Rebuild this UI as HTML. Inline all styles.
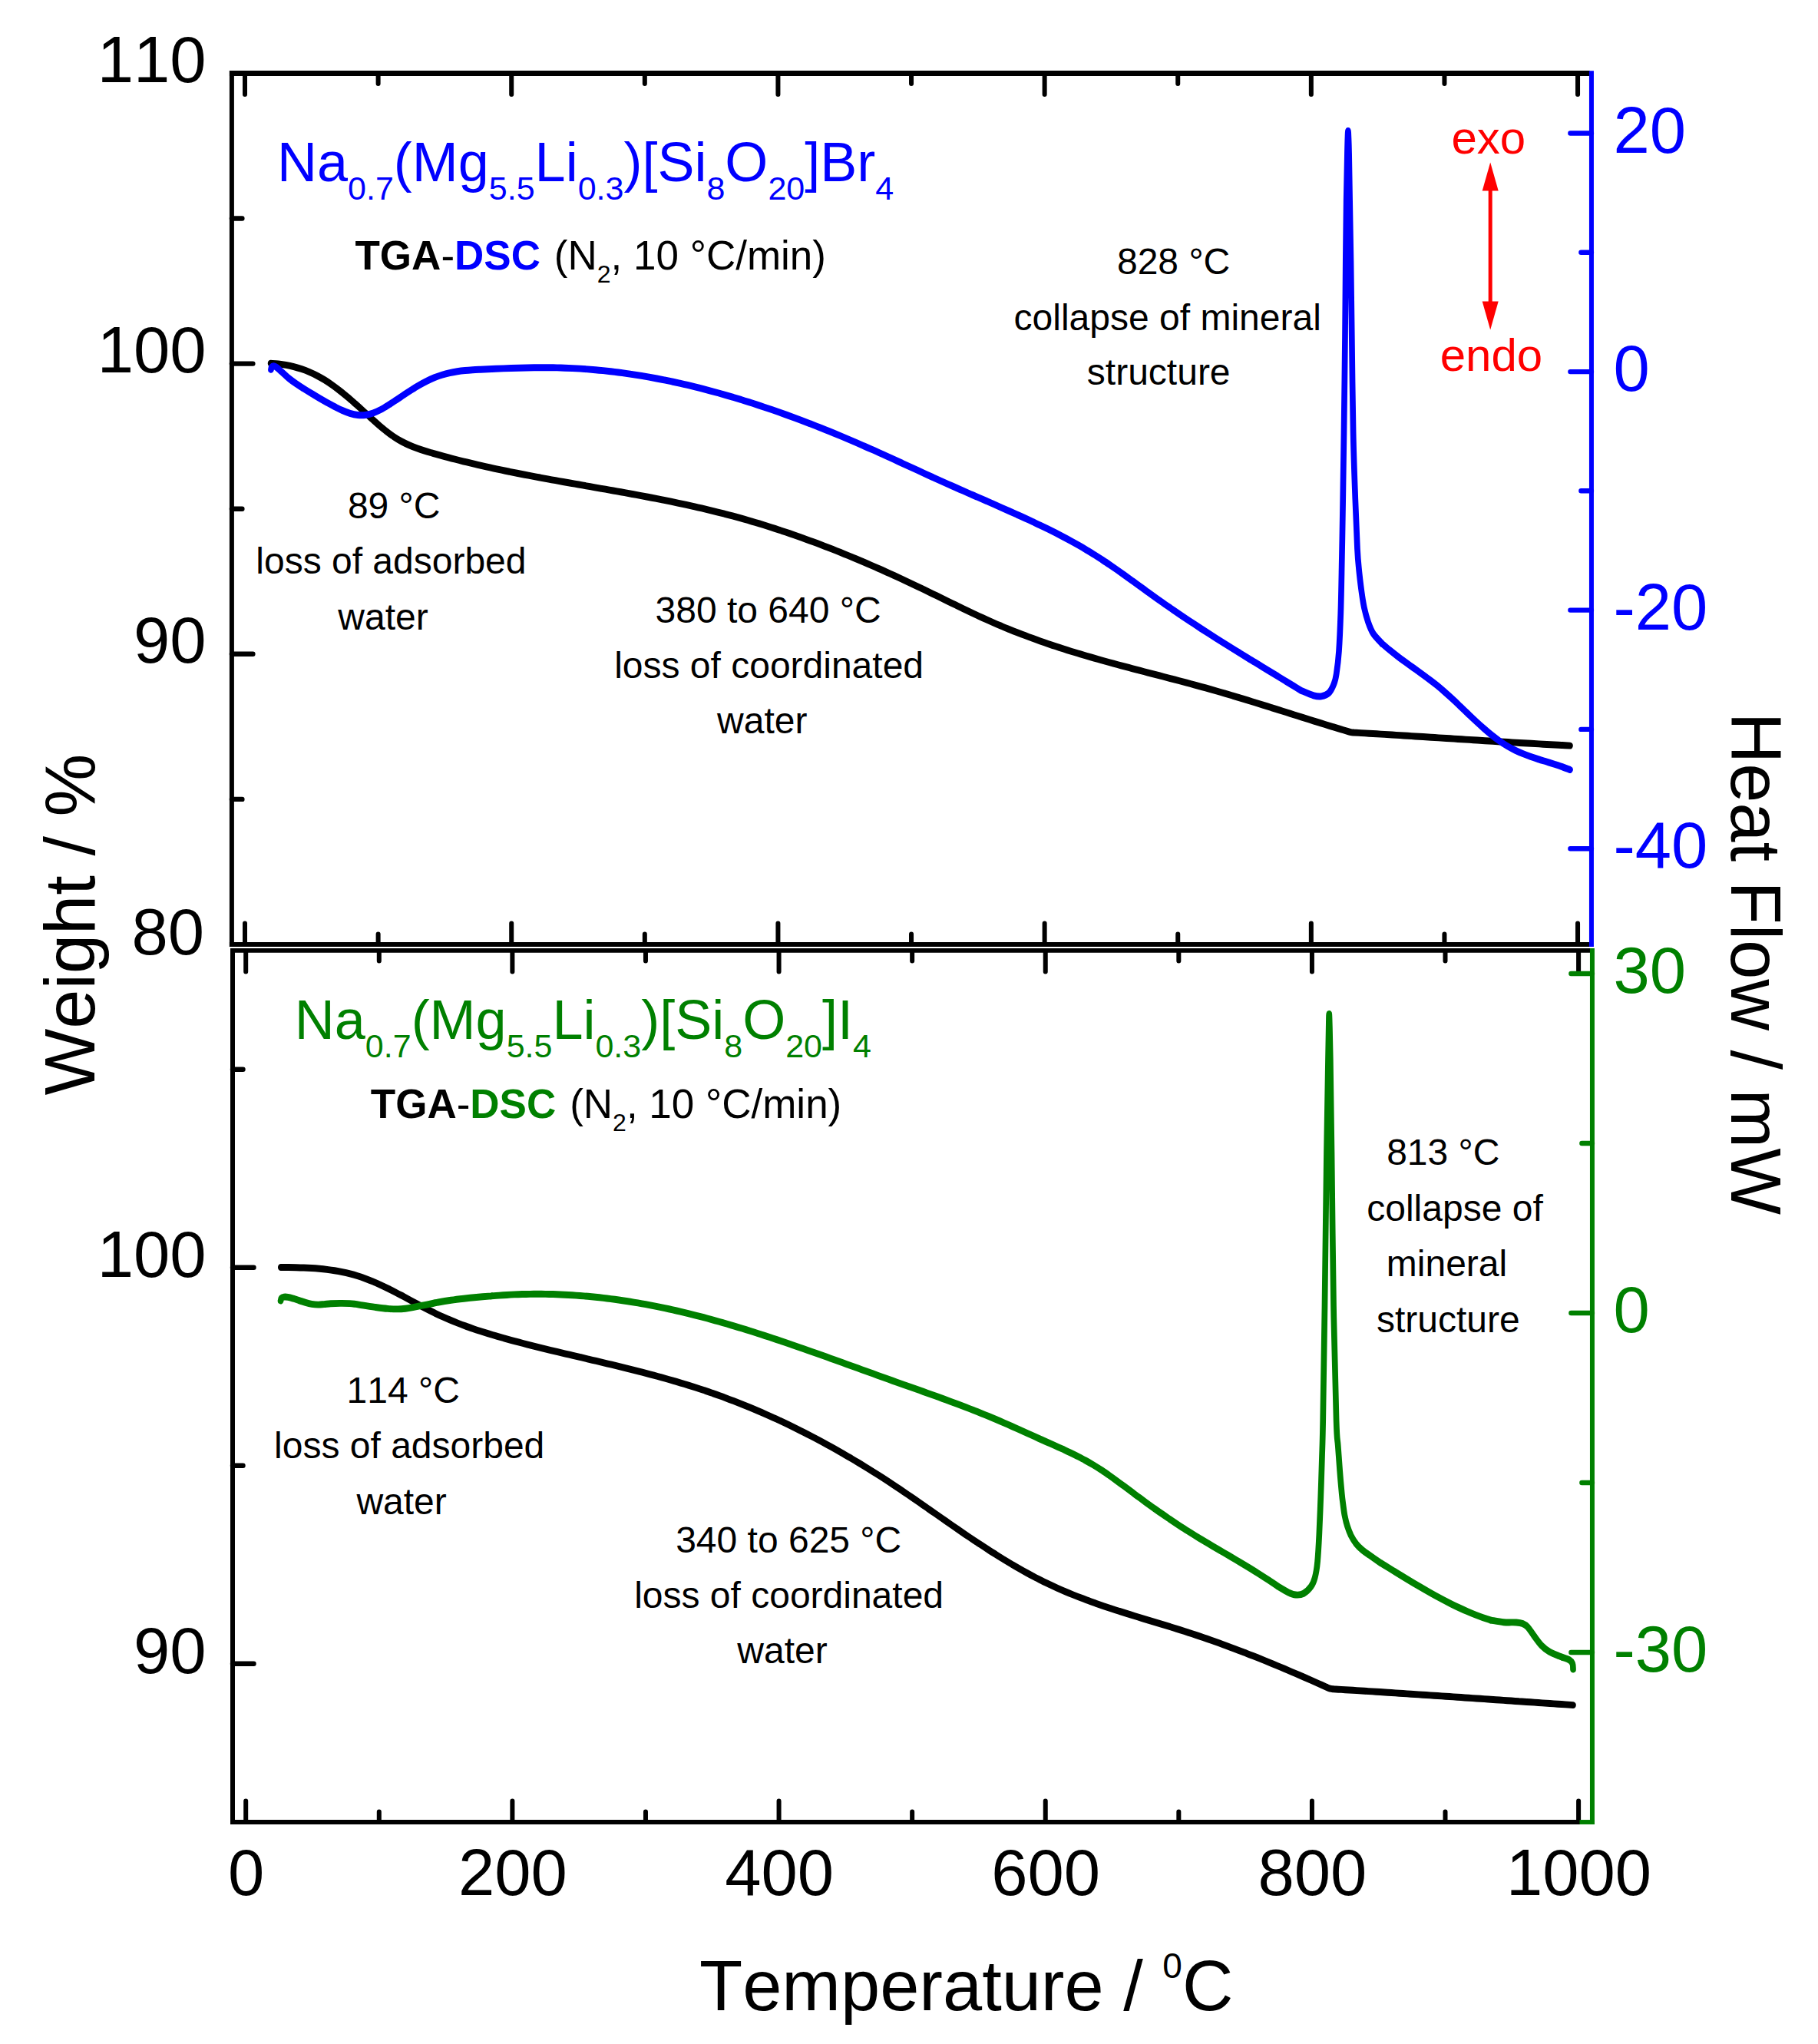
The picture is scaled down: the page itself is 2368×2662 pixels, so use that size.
<!DOCTYPE html>
<html lang="en"><head><meta charset="utf-8"><title>TGA-DSC</title>
<style>
html,body{margin:0;padding:0;background:#fff;}
body{width:2368px;height:2662px;overflow:hidden;}
svg{display:block;}
text{font-family:"Liberation Sans",Arial,Helvetica,sans-serif;font-kerning:none;font-variant-ligatures:none;}
.ax{fill:none;stroke-linecap:butt;}
.tk{fill:none;stroke-width:6;stroke-linecap:round;}
.th{stroke-width:6.4;}
.cv{fill:none;stroke-width:7.7;stroke-linecap:round;stroke-linejoin:round;}
.cv.k{stroke-width:7.7;}
.k{stroke:#000;}.b{stroke:#00f;}.g{stroke:#008000;}
.tl{font-size:85px;}
.an{font-size:48px;text-anchor:middle;}
</style></head><body>
<svg xmlns="http://www.w3.org/2000/svg" width="2368" height="2662" viewBox="0 0 2368 2662">
<rect width="2368" height="2662" fill="#fff"/>
<g transform="scale(1 1.16)">
<path class="cv k" d="M352.6 407.93C354.3 408.05 359.3 408.30 362.6 408.62C366.0 408.94 369.3 409.35 372.6 409.86C376.0 410.38 379.3 410.98 382.7 411.71C386.0 412.44 389.4 413.28 392.7 414.24C396.0 415.21 399.4 416.29 402.7 417.52C406.1 418.75 409.4 420.11 412.7 421.61C416.1 423.12 419.4 424.78 422.8 426.57C426.1 428.36 429.5 430.30 432.8 432.34C436.1 434.37 439.5 436.55 442.8 438.80C446.2 441.05 449.5 443.42 452.8 445.84C456.2 448.27 459.5 450.79 462.9 453.35C466.2 455.91 469.6 458.57 472.9 461.19C476.2 463.82 479.6 466.51 482.9 469.12C486.3 471.72 489.6 474.34 492.9 476.82C496.3 479.30 499.6 481.74 503.0 483.99C506.3 486.24 509.6 488.39 513.0 490.32C516.3 492.25 519.7 493.98 523.0 495.56C526.4 497.14 529.7 498.52 533.0 499.80C536.4 501.09 539.7 502.20 543.1 503.26C546.4 504.32 549.7 505.25 553.1 506.16C556.4 507.08 559.8 507.90 563.1 508.73C566.5 509.56 569.8 510.36 573.1 511.16C576.5 511.95 579.8 512.73 583.2 513.49C586.5 514.26 589.8 515.01 593.2 515.74C596.5 516.48 599.9 517.20 603.2 517.92C606.5 518.63 609.9 519.32 613.2 520.01C616.6 520.70 619.9 521.37 623.3 522.04C626.6 522.70 629.9 523.35 633.3 523.99C636.6 524.64 640.0 525.27 643.3 525.89C646.6 526.51 650.0 527.13 653.3 527.73C656.7 528.34 660.0 528.93 663.4 529.52C666.7 530.11 670.0 530.68 673.4 531.26C676.7 531.83 680.1 532.39 683.4 532.95C686.7 533.51 690.1 534.06 693.4 534.61C696.8 535.16 700.1 535.70 703.5 536.23C706.8 536.77 710.1 537.30 713.5 537.83C716.8 538.36 720.2 538.88 723.5 539.40C726.8 539.92 730.2 540.43 733.5 540.95C736.9 541.46 740.2 541.97 743.5 542.48C746.9 542.99 750.2 543.50 753.6 544.00C756.9 544.51 760.3 545.01 763.6 545.52C766.9 546.02 770.3 546.53 773.6 547.03C777.0 547.54 780.3 548.04 783.6 548.55C787.0 549.06 790.3 549.56 793.7 550.08C797.0 550.59 800.4 551.10 803.7 551.61C807.0 552.13 810.4 552.64 813.7 553.17C817.1 553.69 820.4 554.21 823.7 554.74C827.1 555.27 830.4 555.80 833.8 556.34C837.1 556.88 840.4 557.43 843.8 557.98C847.1 558.52 850.5 559.08 853.8 559.64C857.2 560.20 860.5 560.77 863.8 561.35C867.2 561.93 870.5 562.51 873.9 563.10C877.2 563.69 880.5 564.29 883.9 564.90C887.2 565.51 890.6 566.13 893.9 566.76C897.3 567.38 900.6 568.02 903.9 568.67C907.3 569.32 910.6 569.98 914.0 570.64C917.3 571.31 920.6 572.00 924.0 572.69C927.3 573.38 930.7 574.09 934.0 574.80C937.4 575.52 940.7 576.25 944.0 577.00C947.4 577.74 950.7 578.50 954.1 579.27C957.4 580.04 960.7 580.83 964.1 581.63C967.4 582.43 970.8 583.25 974.1 584.08C977.4 584.91 980.8 585.76 984.1 586.62C987.5 587.48 990.8 588.36 994.2 589.25C997.5 590.14 1000.8 591.05 1004.2 591.97C1007.5 592.89 1010.9 593.82 1014.2 594.77C1017.5 595.72 1020.9 596.68 1024.2 597.66C1027.6 598.63 1030.9 599.62 1034.3 600.63C1037.6 601.63 1040.9 602.65 1044.3 603.68C1047.6 604.71 1051.0 605.75 1054.3 606.81C1057.6 607.87 1061.0 608.94 1064.3 610.02C1067.7 611.10 1071.0 612.20 1074.3 613.31C1077.7 614.42 1081.0 615.54 1084.4 616.67C1087.7 617.81 1091.1 618.95 1094.4 620.11C1097.7 621.27 1101.1 622.44 1104.4 623.62C1107.8 624.81 1111.1 626.00 1114.4 627.21C1117.8 628.41 1121.1 629.63 1124.5 630.86C1127.8 632.09 1131.2 633.33 1134.5 634.58C1137.8 635.83 1141.2 637.09 1144.5 638.37C1147.9 639.64 1151.2 640.93 1154.5 642.22C1157.9 643.52 1161.2 644.82 1164.6 646.14C1167.9 647.46 1171.3 648.78 1174.6 650.12C1177.9 651.46 1181.3 652.80 1184.6 654.16C1188.0 655.52 1191.3 656.89 1194.6 658.26C1198.0 659.64 1201.3 661.03 1204.7 662.42C1208.0 663.81 1211.3 665.22 1214.7 666.62C1218.0 668.03 1221.4 669.44 1224.7 670.85C1228.1 672.26 1231.4 673.67 1234.7 675.07C1238.1 676.48 1241.4 677.89 1244.8 679.29C1248.1 680.68 1251.4 682.08 1254.8 683.46C1258.1 684.84 1261.5 686.22 1264.8 687.58C1268.2 688.94 1271.5 690.29 1274.8 691.63C1278.2 692.96 1281.5 694.28 1284.9 695.58C1288.2 696.87 1291.5 698.15 1294.9 699.41C1298.2 700.67 1301.6 701.90 1304.9 703.11C1308.2 704.33 1311.6 705.52 1314.9 706.69C1318.3 707.86 1321.6 709.00 1325.0 710.13C1328.3 711.26 1331.6 712.37 1335.0 713.46C1338.3 714.55 1341.7 715.62 1345.0 716.67C1348.3 717.72 1351.7 718.75 1355.0 719.77C1358.4 720.79 1361.7 721.78 1365.1 722.77C1368.4 723.75 1371.7 724.72 1375.1 725.67C1378.4 726.62 1381.8 727.55 1385.1 728.48C1388.4 729.40 1391.8 730.30 1395.1 731.20C1398.5 732.09 1401.8 732.97 1405.2 733.84C1408.5 734.71 1411.8 735.56 1415.2 736.41C1418.5 737.25 1421.9 738.09 1425.2 738.91C1428.5 739.73 1431.9 740.55 1435.2 741.35C1438.6 742.16 1441.9 742.96 1445.2 743.75C1448.6 744.54 1451.9 745.32 1455.3 746.10C1458.6 746.87 1462.0 747.64 1465.3 748.41C1468.6 749.18 1472.0 749.94 1475.3 750.70C1478.7 751.45 1482.0 752.21 1485.3 752.96C1488.7 753.71 1492.0 754.46 1495.4 755.21C1498.7 755.96 1502.1 756.70 1505.4 757.45C1508.7 758.20 1512.1 758.95 1515.4 759.70C1518.8 760.44 1522.1 761.19 1525.4 761.95C1528.8 762.70 1532.1 763.46 1535.5 764.22C1538.8 764.98 1542.1 765.74 1545.5 766.51C1548.8 767.28 1552.2 768.05 1555.5 768.83C1558.9 769.61 1562.2 770.40 1565.5 771.19C1568.9 771.99 1572.2 772.79 1575.6 773.60C1578.9 774.41 1582.2 775.23 1585.6 776.06C1588.9 776.88 1592.3 777.72 1595.6 778.57C1599.0 779.41 1602.3 780.26 1605.6 781.12C1609.0 781.98 1612.3 782.85 1615.7 783.72C1619.0 784.59 1622.3 785.47 1625.7 786.35C1629.0 787.23 1632.4 788.12 1635.7 789.01C1639.1 789.90 1642.4 790.80 1645.7 791.70C1649.1 792.60 1652.4 793.50 1655.8 794.40C1659.1 795.31 1662.4 796.21 1665.8 797.12C1669.1 798.02 1672.5 798.93 1675.8 799.84C1679.1 800.75 1682.5 801.66 1685.8 802.57C1689.2 803.47 1692.5 804.38 1695.9 805.29C1699.2 806.19 1702.5 807.10 1705.9 808.00C1709.2 808.90 1712.6 809.80 1715.9 810.69C1719.2 811.59 1722.6 812.48 1725.9 813.36C1729.3 814.25 1732.6 815.13 1736.0 816.01C1739.3 816.89 1742.6 817.76 1746.0 818.63C1749.3 819.49 1754.3 820.77 1756.0 821.20C1757.7 821.63 1755.4 821.06 1756.0 821.21C1756.6 821.35 1758.3 821.87 1759.5 822.07C1760.7 822.27 1762.4 822.36 1763.0 822.41C1763.6 822.47 1761.3 822.33 1763.0 822.41C1764.7 822.50 1769.7 822.75 1773.1 822.92C1776.4 823.09 1779.8 823.26 1783.1 823.44C1786.5 823.61 1789.9 823.79 1793.2 823.96C1796.6 824.14 1799.9 824.31 1803.3 824.49C1806.6 824.67 1810.0 824.85 1813.4 825.03C1816.7 825.21 1820.1 825.39 1823.4 825.57C1826.8 825.75 1830.1 825.93 1833.5 826.11C1836.9 826.29 1840.2 826.48 1843.6 826.66C1846.9 826.84 1850.3 827.03 1853.6 827.21C1857.0 827.39 1860.4 827.58 1863.7 827.76C1867.1 827.95 1870.4 828.13 1873.8 828.31C1877.1 828.50 1880.5 828.68 1883.9 828.87C1887.2 829.05 1890.6 829.24 1893.9 829.42C1897.3 829.61 1900.6 829.79 1904.0 829.97C1907.4 830.16 1910.7 830.34 1914.1 830.52C1917.4 830.71 1920.8 830.89 1924.1 831.07C1927.5 831.25 1930.9 831.44 1934.2 831.62C1937.6 831.80 1940.9 831.98 1944.3 832.16C1947.6 832.34 1951.0 832.51 1954.4 832.69C1957.7 832.87 1961.1 833.05 1964.4 833.22C1967.8 833.40 1971.1 833.57 1974.5 833.74C1977.9 833.92 1981.2 834.09 1984.6 834.26C1987.9 834.43 1991.3 834.60 1994.6 834.77C1998.0 834.93 2001.4 835.10 2004.7 835.26C2008.1 835.43 2011.4 835.59 2014.8 835.75C2018.1 835.91 2021.5 836.07 2024.9 836.23C2028.2 836.39 2031.6 836.55 2034.9 836.70C2038.3 836.85 2043.3 837.08 2045.0 837.16"/>
<path class="cv b" d="M353.0 414.91C353.1 414.47 353.0 412.89 353.6 412.24C354.2 411.59 355.5 410.98 356.6 411.03C357.8 411.09 358.9 411.62 360.5 412.59C362.1 413.55 365.1 416.11 366.0 416.81C366.9 417.52 364.3 415.52 366.0 416.82C367.7 418.11 372.7 422.21 376.0 424.57C379.3 426.93 382.6 428.97 386.0 430.97C389.3 432.96 392.6 434.74 396.0 436.55C399.3 438.36 402.6 440.10 406.0 441.84C409.3 443.57 412.6 445.30 415.9 446.98C419.3 448.66 422.6 450.32 425.9 451.92C429.3 453.53 432.6 455.13 435.9 456.61C439.3 458.09 442.6 459.57 445.9 460.82C449.2 462.07 452.6 463.23 455.9 464.09C459.2 464.95 462.6 465.64 465.9 465.95C469.2 466.26 472.5 466.30 475.9 465.94C479.2 465.58 482.5 464.80 485.9 463.80C489.2 462.80 492.5 461.43 495.9 459.94C499.2 458.46 502.5 456.69 505.8 454.90C509.2 453.11 512.5 451.12 515.8 449.20C519.2 447.29 522.5 445.29 525.8 443.39C529.1 441.49 532.5 439.60 535.8 437.81C539.1 436.01 542.5 434.25 545.8 432.61C549.1 430.97 552.5 429.40 555.8 427.96C559.1 426.53 562.4 425.18 565.8 424.00C569.1 422.83 572.4 421.79 575.8 420.89C579.1 419.99 582.4 419.25 585.8 418.61C589.1 417.96 592.4 417.46 595.7 417.01C599.1 416.57 602.4 416.24 605.7 415.95C609.1 415.66 612.4 415.46 615.7 415.27C619.0 415.08 622.4 414.95 625.7 414.81C629.0 414.66 632.4 414.55 635.7 414.42C639.0 414.29 642.4 414.17 645.7 414.04C649.0 413.92 652.3 413.80 655.7 413.69C659.0 413.58 662.3 413.47 665.7 413.37C669.0 413.27 672.3 413.18 675.7 413.10C679.0 413.01 682.3 412.94 685.6 412.88C689.0 412.82 692.3 412.77 695.6 412.73C699.0 412.69 702.3 412.67 705.6 412.66C708.9 412.66 712.3 412.66 715.6 412.69C718.9 412.72 722.3 412.76 725.6 412.82C728.9 412.89 732.3 412.97 735.6 413.07C738.9 413.18 742.2 413.30 745.6 413.44C748.9 413.58 752.2 413.75 755.6 413.93C758.9 414.11 762.2 414.31 765.5 414.53C768.9 414.76 772.2 415.00 775.5 415.26C778.9 415.51 782.2 415.79 785.5 416.09C788.9 416.39 792.2 416.70 795.5 417.04C798.8 417.37 802.2 417.72 805.5 418.09C808.8 418.47 812.2 418.85 815.5 419.26C818.8 419.67 822.2 420.09 825.5 420.53C828.8 420.98 832.1 421.44 835.5 421.91C838.8 422.39 842.1 422.89 845.5 423.40C848.8 423.91 852.1 424.44 855.4 424.98C858.8 425.53 862.1 426.09 865.4 426.67C868.8 427.25 872.1 427.85 875.4 428.46C878.8 429.07 882.1 429.70 885.4 430.34C888.7 430.99 892.1 431.65 895.4 432.32C898.7 433.00 902.1 433.69 905.4 434.39C908.7 435.10 912.1 435.82 915.4 436.56C918.7 437.30 922.0 438.05 925.4 438.82C928.7 439.59 932.0 440.37 935.4 441.17C938.7 441.96 942.0 442.78 945.3 443.60C948.7 444.43 952.0 445.27 955.3 446.12C958.7 446.98 962.0 447.85 965.3 448.73C968.7 449.61 972.0 450.51 975.3 451.42C978.6 452.33 982.0 453.25 985.3 454.19C988.6 455.12 992.0 456.07 995.3 457.04C998.6 458.00 1001.9 458.98 1005.3 459.97C1008.6 460.95 1011.9 461.96 1015.3 462.97C1018.6 463.99 1021.9 465.01 1025.3 466.05C1028.6 467.09 1031.9 468.14 1035.2 469.21C1038.6 470.27 1041.9 471.34 1045.2 472.43C1048.6 473.52 1051.9 474.62 1055.2 475.73C1058.6 476.84 1061.9 477.96 1065.2 479.09C1068.5 480.22 1071.9 481.37 1075.2 482.52C1078.5 483.68 1081.9 484.84 1085.2 486.02C1088.5 487.20 1091.8 488.38 1095.2 489.58C1098.5 490.78 1101.8 491.99 1105.2 493.21C1108.5 494.42 1111.8 495.65 1115.2 496.89C1118.5 498.13 1121.8 499.38 1125.1 500.63C1128.5 501.89 1131.8 503.16 1135.1 504.44C1138.5 505.71 1141.8 507.00 1145.1 508.29C1148.4 509.58 1151.8 510.88 1155.1 512.19C1158.4 513.49 1161.8 514.80 1165.1 516.11C1168.4 517.43 1171.8 518.74 1175.1 520.06C1178.4 521.38 1181.7 522.70 1185.1 524.02C1188.4 525.34 1191.7 526.66 1195.1 527.98C1198.4 529.30 1201.7 530.62 1205.1 531.93C1208.4 533.25 1211.7 534.56 1215.0 535.87C1218.4 537.17 1221.7 538.47 1225.0 539.77C1228.4 541.06 1231.7 542.35 1235.0 543.63C1238.3 544.91 1241.7 546.18 1245.0 547.45C1248.3 548.72 1251.7 549.98 1255.0 551.24C1258.3 552.50 1261.7 553.76 1265.0 555.01C1268.3 556.27 1271.6 557.52 1275.0 558.77C1278.3 560.02 1281.6 561.28 1285.0 562.53C1288.3 563.79 1291.6 565.04 1295.0 566.30C1298.3 567.56 1301.6 568.83 1304.9 570.09C1308.3 571.36 1311.6 572.64 1314.9 573.92C1318.3 575.20 1321.6 576.48 1324.9 577.78C1328.2 579.08 1331.6 580.38 1334.9 581.69C1338.2 583.01 1341.6 584.33 1344.9 585.68C1348.2 587.02 1351.6 588.37 1354.9 589.75C1358.2 591.12 1361.5 592.51 1364.9 593.92C1368.2 595.34 1371.5 596.77 1374.9 598.23C1378.2 599.70 1381.5 601.18 1384.8 602.69C1388.2 604.21 1391.5 605.75 1394.8 607.33C1398.2 608.90 1401.5 610.51 1404.8 612.15C1408.2 613.79 1411.5 615.47 1414.8 617.19C1418.1 618.91 1421.5 620.66 1424.8 622.46C1428.1 624.26 1431.5 626.10 1434.8 627.98C1438.1 629.86 1441.5 631.79 1444.8 633.74C1448.1 635.69 1451.4 637.68 1454.8 639.68C1458.1 641.69 1461.4 643.72 1464.8 645.76C1468.1 647.81 1471.4 649.88 1474.7 651.95C1478.1 654.02 1481.4 656.10 1484.7 658.18C1488.1 660.26 1491.4 662.35 1494.7 664.42C1498.1 666.50 1501.4 668.57 1504.7 670.63C1508.0 672.68 1511.4 674.73 1514.7 676.75C1518.0 678.78 1521.4 680.78 1524.7 682.77C1528.0 684.75 1531.4 686.72 1534.7 688.67C1538.0 690.62 1541.3 692.56 1544.7 694.48C1548.0 696.40 1551.3 698.30 1554.7 700.19C1558.0 702.08 1561.3 703.96 1564.6 705.82C1568.0 707.68 1571.3 709.53 1574.6 711.37C1578.0 713.21 1581.3 715.04 1584.6 716.86C1588.0 718.68 1591.3 720.49 1594.6 722.29C1597.9 724.09 1601.3 725.88 1604.6 727.67C1607.9 729.46 1611.3 731.23 1614.6 733.01C1617.9 734.78 1621.2 736.54 1624.6 738.31C1627.9 740.07 1631.2 741.83 1634.6 743.58C1637.9 745.34 1641.2 747.09 1644.6 748.84C1647.9 750.60 1651.2 752.34 1654.5 754.09C1657.9 755.84 1661.2 757.59 1664.5 759.34C1667.9 761.09 1671.2 762.85 1674.5 764.60C1677.9 766.36 1681.2 768.11 1684.5 769.87C1687.8 771.63 1692.8 774.29 1694.5 775.17C1696.2 776.05 1691.8 774.22 1694.5 775.17C1697.2 776.12 1706.6 779.77 1711.0 780.86C1715.4 781.95 1717.7 782.20 1721.0 781.72C1724.3 781.25 1728.1 780.30 1730.8 778.02C1733.5 775.73 1735.8 771.58 1737.4 768.02C1739.1 764.45 1739.6 762.80 1740.7 756.64C1741.8 750.47 1743.1 742.41 1744.0 731.03C1744.9 719.66 1745.6 706.03 1746.3 688.36C1747.0 670.69 1747.4 646.34 1747.9 625.00C1748.4 603.66 1748.8 583.62 1749.2 560.34C1749.6 537.07 1750.0 515.80 1750.5 485.34C1751.0 454.89 1751.6 409.63 1752.0 377.59C1752.4 345.55 1752.5 318.68 1752.8 293.10C1753.1 267.53 1753.3 244.25 1753.7 224.14C1754.1 204.02 1754.6 184.20 1754.9 172.41C1755.2 160.63 1755.3 157.69 1755.5 153.45C1755.7 149.21 1755.8 146.98 1755.9 146.98C1756.1 146.98 1756.2 149.21 1756.4 153.45C1756.6 157.69 1756.8 160.63 1757.1 172.41C1757.4 184.20 1757.7 204.02 1758.1 224.14C1758.5 244.25 1759.0 267.53 1759.5 293.10C1760.0 318.68 1760.3 345.55 1760.8 377.59C1761.3 409.63 1761.8 454.89 1762.6 485.34C1763.3 515.80 1764.4 538.51 1765.3 560.34C1766.2 582.18 1767.2 602.73 1768.0 616.38C1768.8 630.03 1769.5 634.04 1770.4 642.24C1771.4 650.45 1772.6 658.86 1773.7 665.60C1774.8 672.34 1775.6 677.23 1777.0 682.67C1778.4 688.12 1780.1 693.52 1782.0 698.28C1783.9 703.03 1785.6 707.18 1788.6 711.21C1791.6 715.23 1798.1 720.55 1800.0 722.41C1801.9 724.28 1798.3 721.16 1800.0 722.42C1801.7 723.67 1806.8 727.53 1810.2 729.93C1813.6 732.34 1817.0 734.61 1820.4 736.85C1823.8 739.09 1827.2 741.23 1830.6 743.37C1834.0 745.50 1837.4 747.57 1840.8 749.68C1844.2 751.78 1847.6 753.85 1851.0 755.98C1854.4 758.11 1857.8 760.24 1861.2 762.47C1864.7 764.70 1868.1 766.96 1871.5 769.34C1874.9 771.73 1878.3 774.21 1881.7 776.79C1885.1 779.36 1888.5 782.05 1891.9 784.77C1895.3 787.48 1898.7 790.29 1902.1 793.08C1905.5 795.87 1908.9 798.71 1912.3 801.50C1915.7 804.29 1919.1 807.10 1922.5 809.81C1925.9 812.53 1929.3 815.23 1932.7 817.80C1936.1 820.37 1939.5 822.89 1942.9 825.24C1946.3 827.59 1949.7 829.85 1953.1 831.92C1956.5 833.98 1959.9 835.88 1963.3 837.62C1966.7 839.35 1970.1 840.89 1973.5 842.33C1976.9 843.77 1980.3 845.04 1983.8 846.24C1987.2 847.45 1990.6 848.52 1994.0 849.56C1997.4 850.60 2000.8 851.53 2004.2 852.47C2007.6 853.42 2011.0 854.29 2014.4 855.20C2017.8 856.11 2021.2 856.99 2024.6 857.93C2028.0 858.88 2031.4 859.82 2034.8 860.87C2038.2 861.92 2043.3 863.67 2045.0 864.22"/>
<path class="cv k" d="M365.8 1422.86C367.5 1422.86 372.5 1422.86 375.8 1422.89C379.2 1422.91 382.5 1422.94 385.8 1423.00C389.2 1423.06 392.5 1423.14 395.8 1423.26C399.2 1423.37 402.5 1423.51 405.9 1423.69C409.2 1423.87 412.5 1424.09 415.9 1424.35C419.2 1424.61 422.6 1424.92 425.9 1425.28C429.2 1425.64 432.6 1426.04 435.9 1426.52C439.3 1426.99 442.6 1427.52 445.9 1428.12C449.3 1428.71 452.6 1429.37 455.9 1430.11C459.3 1430.85 462.6 1431.66 466.0 1432.56C469.3 1433.45 472.6 1434.43 476.0 1435.49C479.3 1436.54 482.7 1437.69 486.0 1438.90C489.3 1440.10 492.7 1441.39 496.0 1442.72C499.3 1444.04 502.7 1445.44 506.0 1446.86C509.4 1448.29 512.7 1449.77 516.0 1451.26C519.4 1452.76 522.7 1454.30 526.1 1455.84C529.4 1457.38 532.7 1458.94 536.1 1460.50C539.4 1462.05 542.8 1463.62 546.1 1465.15C549.4 1466.69 552.8 1468.23 556.1 1469.71C559.4 1471.20 562.8 1472.67 566.1 1474.08C569.5 1475.49 572.8 1476.86 576.1 1478.17C579.5 1479.48 582.8 1480.74 586.2 1481.95C589.5 1483.16 592.8 1484.32 596.2 1485.45C599.5 1486.57 602.8 1487.65 606.2 1488.70C609.5 1489.75 612.9 1490.76 616.2 1491.74C619.5 1492.72 622.9 1493.67 626.2 1494.59C629.6 1495.52 632.9 1496.41 636.2 1497.30C639.6 1498.18 642.9 1499.04 646.3 1499.88C649.6 1500.73 652.9 1501.55 656.3 1502.37C659.6 1503.18 662.9 1503.98 666.3 1504.77C669.6 1505.55 673.0 1506.32 676.3 1507.08C679.6 1507.84 683.0 1508.59 686.3 1509.33C689.7 1510.07 693.0 1510.80 696.3 1511.52C699.7 1512.24 703.0 1512.95 706.3 1513.65C709.7 1514.36 713.0 1515.06 716.4 1515.75C719.7 1516.44 723.0 1517.13 726.4 1517.82C729.7 1518.50 733.1 1519.18 736.4 1519.86C739.7 1520.54 743.1 1521.22 746.4 1521.89C749.8 1522.57 753.1 1523.24 756.4 1523.92C759.8 1524.59 763.1 1525.26 766.4 1525.94C769.8 1526.62 773.1 1527.29 776.5 1527.97C779.8 1528.65 783.1 1529.33 786.5 1530.01C789.8 1530.70 793.2 1531.38 796.5 1532.08C799.8 1532.77 803.2 1533.47 806.5 1534.17C809.9 1534.87 813.2 1535.58 816.5 1536.29C819.9 1537.01 823.2 1537.73 826.5 1538.45C829.9 1539.18 833.2 1539.92 836.6 1540.67C839.9 1541.41 843.2 1542.16 846.6 1542.93C849.9 1543.69 853.3 1544.47 856.6 1545.25C859.9 1546.04 863.3 1546.83 866.6 1547.64C869.9 1548.45 873.3 1549.27 876.6 1550.11C880.0 1550.94 883.3 1551.79 886.6 1552.65C890.0 1553.52 893.3 1554.39 896.7 1555.29C900.0 1556.18 903.3 1557.09 906.7 1558.01C910.0 1558.94 913.4 1559.88 916.7 1560.84C920.0 1561.80 923.4 1562.77 926.7 1563.77C930.0 1564.77 933.4 1565.78 936.7 1566.82C940.1 1567.85 943.4 1568.91 946.7 1569.98C950.1 1571.05 953.4 1572.15 956.8 1573.26C960.1 1574.38 963.4 1575.51 966.8 1576.66C970.1 1577.81 973.4 1578.99 976.8 1580.18C980.1 1581.37 983.5 1582.58 986.8 1583.81C990.1 1585.04 993.5 1586.29 996.8 1587.56C1000.2 1588.83 1003.5 1590.12 1006.8 1591.43C1010.2 1592.74 1013.5 1594.07 1016.9 1595.41C1020.2 1596.76 1023.5 1598.13 1026.9 1599.51C1030.2 1600.90 1033.5 1602.31 1036.9 1603.73C1040.2 1605.15 1043.6 1606.60 1046.9 1608.06C1050.2 1609.53 1053.6 1611.01 1056.9 1612.51C1060.3 1614.01 1063.6 1615.53 1066.9 1617.07C1070.3 1618.61 1073.6 1620.17 1076.9 1621.75C1080.3 1623.33 1083.6 1624.93 1087.0 1626.54C1090.3 1628.16 1093.6 1629.80 1097.0 1631.45C1100.3 1633.11 1103.7 1634.78 1107.0 1636.48C1110.3 1638.17 1113.7 1639.88 1117.0 1641.61C1120.4 1643.34 1123.7 1645.09 1127.0 1646.86C1130.4 1648.63 1133.7 1650.42 1137.0 1652.23C1140.4 1654.04 1143.7 1655.86 1147.1 1657.71C1150.4 1659.55 1153.7 1661.42 1157.1 1663.30C1160.4 1665.18 1163.8 1667.09 1167.1 1669.01C1170.4 1670.93 1173.8 1672.87 1177.1 1674.82C1180.4 1676.77 1183.8 1678.74 1187.1 1680.72C1190.5 1682.69 1193.8 1684.68 1197.1 1686.68C1200.5 1688.67 1203.8 1690.68 1207.2 1692.69C1210.5 1694.69 1213.8 1696.71 1217.2 1698.72C1220.5 1700.73 1223.9 1702.74 1227.2 1704.75C1230.5 1706.76 1233.9 1708.77 1237.2 1710.77C1240.5 1712.77 1243.9 1714.76 1247.2 1716.74C1250.6 1718.73 1253.9 1720.70 1257.2 1722.66C1260.6 1724.62 1263.9 1726.57 1267.3 1728.50C1270.6 1730.43 1273.9 1732.34 1277.3 1734.24C1280.6 1736.13 1283.9 1738.01 1287.3 1739.86C1290.6 1741.72 1294.0 1743.55 1297.3 1745.36C1300.6 1747.17 1304.0 1748.96 1307.3 1750.72C1310.7 1752.48 1314.0 1754.22 1317.3 1755.92C1320.7 1757.63 1324.0 1759.31 1327.4 1760.95C1330.7 1762.60 1334.0 1764.22 1337.4 1765.80C1340.7 1767.38 1344.0 1768.93 1347.4 1770.45C1350.7 1771.96 1354.1 1773.44 1357.4 1774.88C1360.7 1776.32 1364.1 1777.72 1367.4 1779.08C1370.8 1780.45 1374.1 1781.77 1377.4 1783.06C1380.8 1784.36 1384.1 1785.61 1387.5 1786.84C1390.8 1788.06 1394.1 1789.25 1397.5 1790.42C1400.8 1791.58 1404.1 1792.71 1407.5 1793.82C1410.8 1794.93 1414.2 1796.01 1417.5 1797.07C1420.8 1798.13 1424.2 1799.16 1427.5 1800.18C1430.9 1801.20 1434.2 1802.19 1437.5 1803.17C1440.9 1804.15 1444.2 1805.10 1447.5 1806.05C1450.9 1806.99 1454.2 1807.92 1457.6 1808.84C1460.9 1809.76 1464.2 1810.66 1467.6 1811.56C1470.9 1812.46 1474.3 1813.35 1477.6 1814.23C1480.9 1815.11 1484.3 1815.99 1487.6 1816.86C1491.0 1817.73 1494.3 1818.60 1497.6 1819.47C1501.0 1820.34 1504.3 1821.21 1507.6 1822.08C1511.0 1822.95 1514.3 1823.82 1517.7 1824.70C1521.0 1825.58 1524.3 1826.47 1527.7 1827.36C1531.0 1828.25 1534.4 1829.15 1537.7 1830.06C1541.0 1830.97 1544.4 1831.90 1547.7 1832.83C1551.0 1833.77 1554.4 1834.72 1557.7 1835.68C1561.1 1836.64 1564.4 1837.62 1567.7 1838.61C1571.1 1839.59 1574.4 1840.59 1577.8 1841.61C1581.1 1842.62 1584.4 1843.65 1587.8 1844.68C1591.1 1845.72 1594.5 1846.77 1597.8 1847.83C1601.1 1848.89 1604.5 1849.96 1607.8 1851.04C1611.1 1852.13 1614.5 1853.22 1617.8 1854.33C1621.2 1855.43 1624.5 1856.55 1627.8 1857.67C1631.2 1858.80 1634.5 1859.94 1637.9 1861.08C1641.2 1862.23 1644.5 1863.39 1647.9 1864.55C1651.2 1865.72 1654.5 1866.89 1657.9 1868.08C1661.2 1869.27 1664.6 1870.46 1667.9 1871.66C1671.2 1872.87 1674.6 1874.08 1677.9 1875.30C1681.3 1876.52 1684.6 1877.75 1687.9 1878.99C1691.3 1880.23 1694.6 1881.48 1698.0 1882.73C1701.3 1883.99 1704.6 1885.25 1708.0 1886.52C1711.3 1887.79 1714.6 1889.07 1718.0 1890.35C1721.3 1891.63 1726.3 1893.58 1728.0 1894.22C1729.7 1894.87 1727.2 1893.95 1728.0 1894.22C1728.8 1894.50 1731.0 1895.50 1732.5 1895.86C1734.0 1896.22 1736.2 1896.29 1737.0 1896.38C1737.8 1896.47 1735.3 1896.29 1737.0 1896.38C1738.7 1896.47 1743.7 1896.73 1747.1 1896.90C1750.4 1897.08 1753.8 1897.25 1757.1 1897.43C1760.5 1897.61 1763.8 1897.79 1767.2 1897.97C1770.5 1898.15 1773.9 1898.33 1777.3 1898.51C1780.6 1898.69 1784.0 1898.88 1787.3 1899.06C1790.7 1899.24 1794.0 1899.43 1797.4 1899.61C1800.7 1899.80 1804.1 1899.98 1807.5 1900.17C1810.8 1900.36 1814.2 1900.55 1817.5 1900.73C1820.9 1900.92 1824.2 1901.11 1827.6 1901.30C1830.9 1901.49 1834.3 1901.68 1837.6 1901.87C1841.0 1902.06 1844.4 1902.26 1847.7 1902.45C1851.1 1902.64 1854.4 1902.83 1857.8 1903.03C1861.1 1903.22 1864.5 1903.42 1867.8 1903.61C1871.2 1903.81 1874.5 1904.00 1877.9 1904.20C1881.3 1904.39 1884.6 1904.59 1888.0 1904.78C1891.3 1904.98 1894.7 1905.18 1898.0 1905.37C1901.4 1905.57 1904.7 1905.77 1908.1 1905.97C1911.5 1906.17 1914.8 1906.36 1918.2 1906.56C1921.5 1906.76 1924.9 1906.96 1928.2 1907.16C1931.6 1907.36 1934.9 1907.56 1938.3 1907.75C1941.6 1907.95 1945.0 1908.15 1948.4 1908.35C1951.7 1908.55 1955.1 1908.75 1958.4 1908.95C1961.8 1909.15 1965.1 1909.35 1968.5 1909.55C1971.8 1909.75 1975.2 1909.95 1978.5 1910.15C1981.9 1910.35 1985.3 1910.55 1988.6 1910.75C1992.0 1910.95 1995.3 1911.14 1998.7 1911.34C2002.0 1911.54 2005.4 1911.74 2008.7 1911.94C2012.1 1912.14 2015.5 1912.34 2018.8 1912.54C2022.2 1912.73 2025.5 1912.93 2028.9 1913.13C2032.2 1913.33 2035.6 1913.52 2038.9 1913.72C2042.3 1913.92 2047.3 1914.21 2049.0 1914.31"/>
<path class="cv g" d="M365.6 1460.34C365.8 1459.89 365.8 1458.28 366.5 1457.59C367.2 1456.90 368.6 1456.41 370.0 1456.21C371.4 1456.01 373.0 1456.09 375.0 1456.38C377.0 1456.67 379.6 1457.33 382.0 1457.93C384.4 1458.53 386.8 1459.25 389.5 1460.00C392.2 1460.75 395.2 1461.74 398.0 1462.41C400.8 1463.09 403.3 1463.66 406.0 1464.05C408.7 1464.44 411.6 1464.70 414.3 1464.74C417.0 1464.78 419.2 1464.51 422.0 1464.31C424.8 1464.11 427.3 1463.71 430.8 1463.53C434.3 1463.36 438.9 1463.29 443.0 1463.28C447.1 1463.26 452.2 1463.30 455.5 1463.45C458.8 1463.59 460.2 1463.81 463.0 1464.14C465.8 1464.47 467.8 1464.86 472.0 1465.43C476.2 1466.01 483.0 1466.94 488.5 1467.59C494.0 1468.23 500.1 1468.95 505.0 1469.31C509.9 1469.67 514.4 1469.77 518.2 1469.74C522.0 1469.71 524.7 1469.47 528.0 1469.14C531.3 1468.81 533.6 1468.46 538.0 1467.76C542.4 1467.05 549.0 1465.86 554.5 1464.91C560.0 1463.97 565.5 1462.93 571.0 1462.07C576.5 1461.21 582.0 1460.43 587.5 1459.74C593.0 1459.05 598.5 1458.48 604.0 1457.93C609.5 1457.39 614.5 1456.94 620.5 1456.47C626.5 1455.99 636.8 1455.31 640.0 1455.09C643.2 1454.86 638.3 1455.21 640.0 1455.09C641.7 1454.98 646.7 1454.60 650.0 1454.39C653.4 1454.17 656.7 1453.98 660.1 1453.81C663.4 1453.64 666.8 1453.50 670.1 1453.37C673.5 1453.25 676.8 1453.14 680.2 1453.06C683.5 1452.98 686.9 1452.92 690.2 1452.88C693.6 1452.84 696.9 1452.82 700.3 1452.82C703.6 1452.83 707.0 1452.85 710.3 1452.89C713.7 1452.94 717.0 1453.00 720.4 1453.09C723.7 1453.17 727.1 1453.28 730.4 1453.40C733.8 1453.53 737.1 1453.67 740.5 1453.84C743.8 1454.00 747.2 1454.19 750.5 1454.39C753.9 1454.59 757.2 1454.82 760.6 1455.06C763.9 1455.30 767.3 1455.56 770.6 1455.85C774.0 1456.13 777.3 1456.43 780.7 1456.74C784.0 1457.06 787.4 1457.40 790.7 1457.75C794.1 1458.11 797.4 1458.48 800.8 1458.87C804.1 1459.26 807.5 1459.67 810.8 1460.10C814.1 1460.52 817.5 1460.97 820.8 1461.43C824.2 1461.89 827.5 1462.37 830.9 1462.87C834.2 1463.36 837.6 1463.87 840.9 1464.40C844.3 1464.93 847.6 1465.48 851.0 1466.04C854.3 1466.61 857.7 1467.19 861.0 1467.78C864.4 1468.38 867.7 1468.99 871.1 1469.62C874.4 1470.25 877.8 1470.89 881.1 1471.55C884.5 1472.21 887.8 1472.89 891.2 1473.58C894.5 1474.27 897.9 1474.97 901.2 1475.69C904.6 1476.41 907.9 1477.15 911.3 1477.90C914.6 1478.65 918.0 1479.42 921.3 1480.19C924.7 1480.97 928.0 1481.76 931.4 1482.57C934.7 1483.37 938.1 1484.19 941.4 1485.02C944.8 1485.85 948.1 1486.69 951.5 1487.55C954.8 1488.40 958.2 1489.26 961.5 1490.14C964.9 1491.01 968.2 1491.90 971.6 1492.80C974.9 1493.70 978.3 1494.60 981.6 1495.52C984.9 1496.43 988.3 1497.36 991.6 1498.30C995.0 1499.23 998.3 1500.17 1001.7 1501.12C1005.0 1502.08 1008.4 1503.03 1011.7 1504.00C1015.1 1504.97 1018.4 1505.94 1021.8 1506.92C1025.1 1507.90 1028.5 1508.89 1031.8 1509.88C1035.2 1510.88 1038.5 1511.88 1041.9 1512.88C1045.2 1513.88 1048.6 1514.89 1051.9 1515.91C1055.3 1516.92 1058.6 1517.94 1062.0 1518.96C1065.3 1519.99 1068.7 1521.01 1072.0 1522.04C1075.4 1523.07 1078.7 1524.10 1082.1 1525.14C1085.4 1526.17 1088.8 1527.21 1092.1 1528.25C1095.5 1529.29 1098.8 1530.33 1102.2 1531.38C1105.5 1532.42 1108.9 1533.46 1112.2 1534.50C1115.6 1535.55 1118.9 1536.59 1122.3 1537.64C1125.6 1538.68 1129.0 1539.72 1132.3 1540.77C1135.7 1541.81 1139.0 1542.85 1142.4 1543.89C1145.7 1544.93 1149.1 1545.97 1152.4 1547.00C1155.7 1548.04 1159.1 1549.07 1162.4 1550.10C1165.8 1551.13 1169.1 1552.16 1172.5 1553.18C1175.8 1554.21 1179.2 1555.23 1182.5 1556.25C1185.9 1557.28 1189.2 1558.30 1192.6 1559.32C1195.9 1560.35 1199.3 1561.37 1202.6 1562.40C1206.0 1563.43 1209.3 1564.46 1212.7 1565.49C1216.0 1566.53 1219.4 1567.57 1222.7 1568.62C1226.1 1569.66 1229.4 1570.72 1232.8 1571.78C1236.1 1572.84 1239.5 1573.90 1242.8 1574.98C1246.2 1576.06 1249.5 1577.15 1252.9 1578.25C1256.2 1579.34 1259.6 1580.45 1262.9 1581.57C1266.3 1582.70 1269.6 1583.83 1273.0 1584.98C1276.3 1586.13 1279.7 1587.29 1283.0 1588.47C1286.4 1589.65 1289.7 1590.84 1293.1 1592.05C1296.4 1593.26 1299.8 1594.49 1303.1 1595.74C1306.5 1596.98 1309.8 1598.25 1313.2 1599.52C1316.5 1600.79 1319.9 1602.07 1323.2 1603.36C1326.5 1604.65 1329.9 1605.95 1333.2 1607.25C1336.6 1608.55 1339.9 1609.85 1343.3 1611.16C1346.6 1612.46 1350.0 1613.76 1353.3 1615.06C1356.7 1616.36 1360.0 1617.65 1363.4 1618.94C1366.7 1620.23 1370.1 1621.50 1373.4 1622.79C1376.8 1624.08 1380.1 1625.37 1383.5 1626.69C1386.8 1628.02 1390.2 1629.35 1393.5 1630.73C1396.9 1632.11 1400.2 1633.52 1403.6 1634.99C1406.9 1636.46 1410.3 1637.97 1413.6 1639.55C1417.0 1641.14 1420.3 1642.78 1423.7 1644.51C1427.0 1646.24 1430.4 1648.05 1433.7 1649.93C1437.1 1651.82 1440.4 1653.79 1443.8 1655.80C1447.1 1657.81 1450.5 1659.90 1453.8 1661.99C1457.2 1664.09 1460.5 1666.24 1463.9 1668.39C1467.2 1670.54 1470.6 1672.72 1473.9 1674.87C1477.3 1677.03 1480.6 1679.19 1484.0 1681.32C1487.3 1683.45 1490.7 1685.56 1494.0 1687.65C1497.3 1689.74 1500.7 1691.82 1504.0 1693.87C1507.4 1695.92 1510.7 1697.94 1514.1 1699.95C1517.4 1701.95 1520.8 1703.93 1524.1 1705.88C1527.5 1707.83 1530.8 1709.76 1534.2 1711.66C1537.5 1713.56 1540.9 1715.44 1544.2 1717.28C1547.6 1719.12 1550.9 1720.94 1554.3 1722.73C1557.6 1724.52 1561.0 1726.28 1564.3 1728.03C1567.7 1729.78 1571.0 1731.50 1574.4 1733.22C1577.7 1734.94 1581.1 1736.64 1584.4 1738.35C1587.8 1740.05 1591.1 1741.74 1594.5 1743.43C1597.8 1745.13 1601.2 1746.82 1604.5 1748.52C1607.9 1750.23 1611.2 1751.93 1614.6 1753.66C1617.9 1755.38 1621.3 1757.11 1624.6 1758.86C1628.0 1760.62 1631.3 1762.39 1634.7 1764.19C1638.0 1765.99 1641.4 1767.80 1644.7 1769.66C1648.1 1771.52 1651.4 1773.40 1654.8 1775.32C1658.1 1777.25 1663.1 1780.23 1664.8 1781.21C1666.5 1782.19 1662.6 1780.12 1664.8 1781.21C1667.0 1782.30 1674.2 1786.21 1678.0 1787.76C1681.8 1789.31 1684.6 1790.29 1687.9 1790.52C1691.2 1790.75 1694.5 1790.69 1697.8 1789.14C1701.1 1787.59 1705.2 1784.20 1707.7 1781.21C1710.2 1778.22 1711.3 1775.72 1712.7 1771.21C1714.1 1766.70 1715.1 1762.20 1716.0 1754.14C1716.9 1746.08 1717.6 1735.17 1718.3 1722.84C1719.0 1710.52 1719.7 1694.40 1720.3 1680.17C1720.9 1665.95 1721.4 1651.72 1721.9 1637.50C1722.4 1623.28 1722.6 1623.49 1723.2 1594.83C1723.8 1566.16 1724.7 1515.80 1725.5 1465.52C1726.3 1415.23 1727.2 1339.08 1728.0 1293.10C1728.8 1247.13 1729.5 1213.36 1730.0 1189.66C1730.5 1165.95 1730.6 1159.41 1730.8 1150.86C1731.0 1142.31 1731.0 1138.36 1731.2 1138.36C1731.4 1138.36 1731.5 1142.31 1731.8 1150.86C1732.1 1159.41 1732.3 1165.95 1732.8 1189.66C1733.2 1213.36 1733.8 1247.13 1734.5 1293.10C1735.2 1339.08 1736.0 1415.23 1737.0 1465.52C1738.0 1515.80 1739.6 1568.53 1740.6 1594.83C1741.6 1621.12 1742.0 1613.79 1742.8 1623.28C1743.6 1632.76 1744.4 1642.72 1745.2 1651.72C1746.0 1660.73 1747.1 1671.01 1747.8 1677.33C1748.5 1683.65 1748.9 1685.63 1749.5 1689.66C1750.1 1693.68 1750.6 1697.53 1751.5 1701.47C1752.4 1705.40 1753.5 1709.54 1754.9 1713.28C1756.3 1717.01 1757.8 1720.53 1759.7 1723.88C1761.7 1727.23 1764.1 1730.60 1766.6 1733.36C1769.1 1736.12 1771.8 1738.26 1774.8 1740.43C1777.8 1742.60 1780.5 1744.02 1784.4 1746.38C1788.3 1748.74 1795.8 1753.20 1798.1 1754.57C1800.4 1755.93 1796.4 1753.66 1798.1 1754.57C1799.8 1755.48 1805.0 1758.20 1808.4 1760.02C1811.8 1761.84 1815.2 1763.66 1818.7 1765.47C1822.1 1767.28 1825.5 1769.09 1828.9 1770.89C1832.4 1772.68 1835.8 1774.47 1839.2 1776.24C1842.6 1778.01 1846.1 1779.77 1849.5 1781.50C1852.9 1783.23 1856.3 1784.94 1859.8 1786.62C1863.2 1788.31 1866.6 1789.97 1870.0 1791.59C1873.5 1793.21 1876.9 1794.81 1880.3 1796.36C1883.8 1797.91 1887.2 1799.43 1890.6 1800.90C1894.0 1802.37 1897.5 1803.81 1900.9 1805.18C1904.3 1806.56 1907.7 1807.90 1911.2 1809.17C1914.6 1810.45 1918.0 1811.68 1921.4 1812.84C1924.9 1814.00 1928.3 1815.11 1931.7 1816.14C1935.1 1817.18 1940.3 1818.57 1942.0 1819.06C1943.7 1819.54 1939.2 1818.68 1942.0 1819.05C1944.8 1819.42 1953.0 1820.88 1958.5 1821.29C1964.0 1821.71 1970.9 1821.29 1975.0 1821.55C1979.1 1821.81 1980.8 1821.98 1983.3 1822.84C1985.8 1823.71 1987.4 1824.43 1989.9 1826.72C1992.4 1829.02 1995.2 1833.18 1998.2 1836.64C2001.2 1840.10 2004.7 1844.55 2008.0 1847.50C2011.3 1850.45 2014.1 1852.33 2018.0 1854.31C2021.9 1856.29 2026.8 1857.83 2031.2 1859.40C2035.6 1860.96 2041.6 1862.28 2044.4 1863.71C2047.2 1865.13 2047.5 1866.19 2048.3 1867.93C2049.1 1869.67 2048.9 1873.10 2049.0 1874.14"/>
</g>
<path class="tk k" d="M319.00 95.5V123.0M492.61 95.5V109.0M666.21 95.5V123.0M839.82 95.5V109.0M1013.42 95.5V123.0M1187.03 95.5V109.0M1360.63 95.5V123.0M1534.24 95.5V109.0M1707.84 95.5V123.0M1881.45 95.5V109.0M2055.05 95.5V123.0"/>
<path class="tk k" d="M319.00 1230.0V1202.5M492.61 1230.0V1216.5M666.21 1230.0V1202.5M839.82 1230.0V1216.5M1013.42 1230.0V1202.5M1187.03 1230.0V1216.5M1360.63 1230.0V1202.5M1534.24 1230.0V1216.5M1707.84 1230.0V1202.5M1881.45 1230.0V1216.5M2055.05 1230.0V1202.5"/>
<path class="tk k" d="M320.20 1237.9V1265.4M493.79 1237.9V1251.4M667.38 1237.9V1265.4M840.97 1237.9V1251.4M1014.56 1237.9V1265.4M1188.15 1237.9V1251.4M1361.74 1237.9V1265.4M1535.33 1237.9V1251.4M1708.92 1237.9V1265.4M1882.51 1237.9V1251.4M2056.10 1237.9V1265.4"/>
<path class="tk k" d="M320.20 2373.0V2345.5M493.79 2373.0V2359.5M667.38 2373.0V2345.5M840.97 2373.0V2359.5M1014.56 2373.0V2345.5M1188.15 2373.0V2359.5M1361.74 2373.0V2345.5M1535.33 2373.0V2359.5M1708.92 2373.0V2345.5M1882.51 2373.0V2359.5M2056.10 2373.0V2345.5"/>
<path class="tk th k" d="M301.90 284.5H315.4M301.90 473.6H329.4M301.90 662.7H315.4M301.90 851.8H329.4M301.90 1040.9H315.4"/>
<path class="tk th k" d="M303.00 1392.8H316.5M303.00 1650.8H330.5M303.00 1908.8H316.5M303.00 2166.8H330.5"/>
<path class="tk th b" d="M2072.95 173.5H2045.4M2072.95 328.8H2059.4M2072.95 484.1H2045.4M2072.95 639.3H2059.4M2072.95 794.6H2045.4M2072.95 949.9H2059.4M2072.95 1105.2H2045.4"/>
<path class="tk th g" d="M2073.95 1268.0H2046.4M2073.95 1489.0H2060.4M2073.95 1710.0H2046.4M2073.95 1931.0H2060.4M2073.95 2152.0H2046.4"/>
<path class="ax k" stroke-width="6" d="M301.90 92.0V1233.0"/>
<path class="ax k" stroke-width="6" d="M303.00 1235.0V2375.9"/>
<path class="ax k" stroke-width="7.1" d="M298.9 95.45H2070.9"/>
<path class="ax k" stroke-width="5.9" d="M298.9 1230.00H2070.9"/>
<path class="ax k" stroke-width="5.9" d="M300.0 1237.90H2071.9"/>
<path class="ax k" stroke-width="5.9" d="M300.0 2373.00H2058.0"/>
<path class="ax b" stroke-width="6" d="M2072.95 92.2V1232.9"/>
<path class="ax g" stroke-width="6" d="M2073.95 1235.0V2375.9"/>
<path class="ax g" stroke-width="5.9" d="M2057.5 2373.00H2076.9"/>
<text class="tl" x="268.5" y="107.0" text-anchor="end">110</text>
<text class="tl" x="268.5" y="485.1" text-anchor="end">100</text>
<text class="tl" x="268.5" y="863.3" text-anchor="end">90</text>
<text class="tl" x="266.0" y="1243.2" text-anchor="end">80</text>
<text class="tl" x="268.5" y="1662.8" text-anchor="end">100</text>
<text class="tl" x="268.5" y="2178.8" text-anchor="end">90</text>
<text class="tl" x="2101.5" y="198.5" fill="#00f">20</text>
<text class="tl" x="2101.5" y="509.1" fill="#00f">0</text>
<text class="tl" x="2101.5" y="819.6" fill="#00f">-20</text>
<text class="tl" x="2101.5" y="1130.2" fill="#00f">-40</text>
<text class="tl" x="2101.5" y="1293.0" fill="#008000">30</text>
<text class="tl" x="2101.5" y="1735.0" fill="#008000">0</text>
<text class="tl" x="2101.5" y="2177.0" fill="#008000">-30</text>
<text class="tl" x="320.7" y="2468" text-anchor="middle">0</text>
<text class="tl" x="667.9" y="2468" text-anchor="middle">200</text>
<text class="tl" x="1015.1" y="2468" text-anchor="middle">400</text>
<text class="tl" x="1362.2" y="2468" text-anchor="middle">600</text>
<text class="tl" x="1709.4" y="2468" text-anchor="middle">800</text>
<text class="tl" x="2056.6" y="2468" text-anchor="middle">1000</text>
<text x="911" y="2617.5" font-size="92">Temperature / <tspan font-size="46" dy="-42">0</tspan><tspan dy="42">C</tspan></text>
<text transform="translate(123.3 1426.5) rotate(-90)" font-size="92">Weight / %</text>
<text transform="translate(2255.2 927.7) rotate(90)" font-size="92">Heat Flow / mW</text>
<text x="361.0" y="236.0" font-size="72" fill="#00f"><tspan>Na</tspan><tspan font-size="43" dy="24">0.7</tspan><tspan dy="-24">(Mg</tspan><tspan font-size="43" dy="24">5.5</tspan><tspan dy="-24">Li</tspan><tspan font-size="43" dy="24">0.3</tspan><tspan dy="-24">)[Si</tspan><tspan font-size="43" dy="24">8</tspan><tspan dy="-24">O</tspan><tspan font-size="43" dy="24">20</tspan><tspan dy="-24">]Br</tspan><tspan font-size="43" dy="24">4</tspan></text>
<text x="383.8" y="1353.2" font-size="72" fill="#008000"><tspan>Na</tspan><tspan font-size="43" dy="24">0.7</tspan><tspan dy="-24">(Mg</tspan><tspan font-size="43" dy="24">5.5</tspan><tspan dy="-24">Li</tspan><tspan font-size="43" dy="24">0.3</tspan><tspan dy="-24">)[Si</tspan><tspan font-size="43" dy="24">8</tspan><tspan dy="-24">O</tspan><tspan font-size="43" dy="24">20</tspan><tspan dy="-24">]I</tspan><tspan font-size="43" dy="24">4</tspan></text>
<text x="462.5" y="350.6" font-size="53"><tspan font-weight="bold">TGA</tspan>-<tspan font-weight="bold" fill="#00f">DSC</tspan><tspan dx="3.2"> (N</tspan><tspan font-size="32" dy="17">2</tspan><tspan dy="-17">, 10 °C/min)</tspan></text>
<text x="482.8" y="1456.3" font-size="53"><tspan font-weight="bold">TGA</tspan>-<tspan font-weight="bold" fill="#008000">DSC</tspan><tspan dx="3.2"> (N</tspan><tspan font-size="32" dy="17">2</tspan><tspan dy="-17">, 10 °C/min)</tspan></text>
<text class="an" x="513.2" y="674.6">89 °C</text>
<text class="an" x="509.4" y="747.3">loss of adsorbed</text>
<text class="an" x="499.0" y="820.1">water</text>
<text class="an" x="1000.6" y="811.0">380 to 640 °C</text>
<text class="an" x="1001.6" y="883.0">loss of coordinated</text>
<text class="an" x="992.8" y="955.3">water</text>
<text class="an" x="1528.6" y="357.0">828 °C</text>
<text class="an" x="1520.7" y="429.6">collapse of mineral</text>
<text class="an" x="1509.2" y="501.3">structure</text>
<text class="an" x="525.2" y="1826.9">114 °C</text>
<text class="an" x="533.2" y="1899.1">loss of adsorbed</text>
<text class="an" x="523.1" y="1971.7">water</text>
<text class="an" x="1027.2" y="2022.1">340 to 625 °C</text>
<text class="an" x="1027.6" y="2093.6">loss of coordinated</text>
<text class="an" x="1019.0" y="2166.4">water</text>
<text class="an" x="1879.8" y="1516.7">813 °C</text>
<text class="an" x="1895.0" y="1589.6">collapse of</text>
<text class="an" x="1884.5" y="1661.6">mineral</text>
<text class="an" x="1886.3" y="1734.6">structure</text>
<text x="1938.8" y="199.5" font-size="60" fill="#f00" text-anchor="middle">exo</text>
<text x="1942.5" y="483.3" font-size="60" fill="#f00" text-anchor="middle">endo</text>
<path d="M1941.2 240V400" stroke="#f00" stroke-width="5" fill="none"/>
<path d="M1941.2 211.4L1951.7 248.6H1930.7Z" fill="#f00"/>
<path d="M1941.2 429.6L1951.7 392.4H1930.7Z" fill="#f00"/>
</svg></body></html>
